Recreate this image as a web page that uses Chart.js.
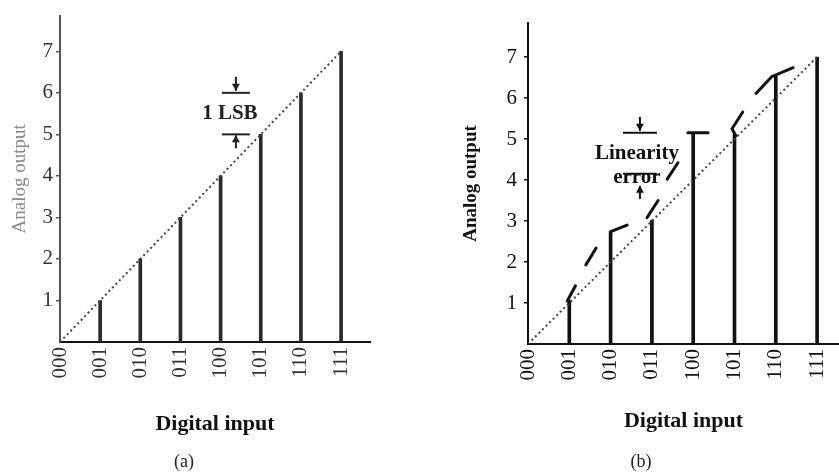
<!DOCTYPE html>
<html>
<head>
<meta charset="utf-8">
<script src="https://cdn.jsdelivr.net/npm/chart.js@4.4.1/dist/chart.umd.min.js"></script>
<style>
  body { margin: 0; background: #fff; width: 839px; height: 475px; position: relative; overflow: hidden; }
  .panel { position: absolute; top: 0; height: 475px; }
  #pa { left: 0; width: 420px; }
  #pb { left: 420px; width: 419px; }
  .cap { position: absolute; top: 451px; transform: translateX(-50%); font: 18px "Liberation Serif", serif; color: #222; }
</style>
</head>
<body>
<div class="panel" id="pa"><canvas id="chartA"></canvas></div>
<div class="panel" id="pb"><canvas id="chartB"></canvas></div>
<div class="cap" style="left:184px">(a)</div>
<div class="cap" style="left:641px">(b)</div>
<script>
// digital codes on the x axis
const codeLabels = ["000", "001", "010", "011", "100", "101", "110", "111"];
const codeSteps = [0, 1, 2, 3, 4, 5, 6, 7];
const outputTicks = [1, 2, 3, 4, 5, 6, 7];

// stems: code 001..111
const stemCodes = [1, 2, 3, 4, 5, 6, 7];
const idealOutput = [1, 2, 3, 4, 5, 6, 7];           // (a)
const actualOutput = [1.07, 2.74, 3.02, 5.15, 5.12, 6.56, 7.0]; // (b)

// dotted ideal line
const idealLineX = [0, 7];
const idealLineY = [0, 7];

// dashed "actual" curve in (b), pieces separated by null
const curveX = [0.95, 1.15, null, 1.40, 1.65, null, 2.0, 2.40, null, 2.88, 3.15, null,
                3.37, 3.63, null, 3.87, 4.36, null, 5.03, 4.94, 5.2, null, 5.52, 5.9, 6.42];
const curveY = [1.05, 1.42, null, 1.93, 2.34, null, 2.74, 2.90, null, 3.08, 3.50, null,
                4.02, 4.42, null, 5.15, 5.15, null, 5.08, 5.25, 5.66, null, 6.11, 6.52, 6.74];

const serif = '"Liberation Serif", "Times New Roman", serif';

function pts(xs, ys) {
  return xs.map((x, i) => ({ x: x === null ? xs[i - 1] : x, y: ys[i] }));
}

// bracket with arrows and a label ("1 LSB", "Linearity error")
const notePlugin = {
  id: 'note',
  afterDatasetsDraw(chart, args, o) {
    if (!o.lines) return;
    const { ctx, scales: { x, y } } = chart;
    const cx = x.getPixelForValue(o.x);
    const hi = y.getPixelForValue(o.hi);
    const lo = y.getPixelForValue(o.lo);
    ctx.save();
    ctx.strokeStyle = ctx.fillStyle = o.color;
    ctx.lineWidth = 2;
    [hi, lo].forEach(py => {
      ctx.beginPath(); ctx.moveTo(cx - o.half, py); ctx.lineTo(cx + o.half, py); ctx.stroke();
    });
    const arrow = (from, tip) => {
      const d = tip > from ? 1 : -1;
      ctx.beginPath(); ctx.moveTo(cx, from); ctx.lineTo(cx, tip); ctx.stroke();
      ctx.beginPath(); ctx.moveTo(cx, tip); ctx.lineTo(cx - 4, tip - 7 * d); ctx.lineTo(cx + 4, tip - 7 * d);
      ctx.closePath(); ctx.fill();
    };
    arrow(hi - 16, hi - 2);
    arrow(lo + o.tail + 13, lo + o.tail);
    ctx.font = 'bold 21px ' + serif;
    ctx.textAlign = 'center';
    ctx.textBaseline = 'middle';
    const mid = (hi + lo) / 2;
    o.lines.forEach((t, i) => ctx.fillText(t, cx + o.dx, mid + i * 24));
    ctx.restore();
  }
};

function makeChart(id, p) {
  const datasets = [
    {
      type: 'bar',
      data: pts(stemCodes, p.stems),
      backgroundColor: p.ink,
      barThickness: 3,
      order: 2
    },
    {
      type: 'line',
      data: pts(idealLineX, idealLineY),
      borderColor: '#444',
      borderWidth: 2,
      borderDash: [2, 3],
      pointRadius: 0,
      order: 1
    }
  ];
  if (p.curve) {
    datasets.push({
      type: 'line',
      data: p.curve,
      borderColor: '#111',
      borderWidth: 3,
      pointRadius: 0,
      spanGaps: false,
      borderCapStyle: 'round',
      order: 0
    });
  }
  return new Chart(document.getElementById(id), {
    type: 'bar',
    data: { datasets },
    plugins: [notePlugin],
    options: {
      responsive: true,
      maintainAspectRatio: false,
      animation: false,
      layout: { padding: p.pad },
      plugins: { legend: { display: false }, tooltip: { enabled: false }, note: p.note },
      scales: {
        x: {
          type: 'linear', min: 0, max: p.xMax, offset: false,
          afterBuildTicks: s => { s.ticks = codeSteps.map(v => ({ value: v })); },
          afterFit: s => { s.height = p.xH; s.paddingLeft = 0; s.paddingRight = 0; },
          ticks: {
            callback: v => codeLabels[v],
            minRotation: 90, maxRotation: 90, autoSkip: false, padding: 5,
            color: p.tickInk, font: { family: serif, size: 21 }
          },
          grid: { display: true, drawOnChartArea: false, drawTicks: false, offset: false },
          border: { display: true, color: '#111', width: 2 },
          title: { display: true, text: 'Digital input', color: '#111', font: { family: serif, size: 22, weight: 'bold' }, padding: 0 }
        },
        y: {
          type: 'linear', min: 0, max: p.yMax,
          afterBuildTicks: s => { s.ticks = outputTicks.map(v => ({ value: v })); },
          afterFit: s => { s.width = p.yW; },
          ticks: { color: p.tickInk, padding: p.tickPad, font: { family: serif, size: 21 } },
          grid: { drawOnChartArea: false, tickLength: 4, color: p.axisInk, lineWidth: 1.5 },
          border: { display: true, color: p.axisInk, width: 2 },
          title: { display: true, text: 'Analog output', color: p.yTitleInk, font: { family: serif, size: 19, weight: p.yTitleWeight }, padding: { top: p.yTitlePad } }
        }
      }
    }
  });
}

makeChart('chartA', {
  stems: idealOutput, ink: '#2a2a2a', tickInk: '#333', axisInk: '#555', yTitleInk: '#8a8a8a', yTitleWeight: 'normal',
  pad: { top: 15, right: 50, bottom: 37, left: 0 },
  xMax: 7.72, yMax: 7.86, xH: 96, yW: 60, tickPad: 3, yTitlePad: 9,
  note: { x: 4.38, hi: 6, lo: 5, half: 14, tail: 1, dx: -6, lines: ['1 LSB'], color: '#222' }
});

makeChart('chartB', {
  stems: actualOutput, ink: '#111', tickInk: '#111', axisInk: '#111', yTitleInk: '#111', yTitleWeight: 'bold',
  curve: pts(curveX, curveY),
  pad: { top: 23, right: 0, bottom: 40, left: 0 },
  xMax: 7.53, yMax: 7.83, xH: 91, yW: 108, tickPad: 7, yTitlePad: 40,
  note: { x: 2.71, hi: 5.15, lo: 4.15, half: 17, tail: 12, dx: -3, lines: ['Linearity', 'error'], color: '#111' }
});
</script>
</body>
</html>
